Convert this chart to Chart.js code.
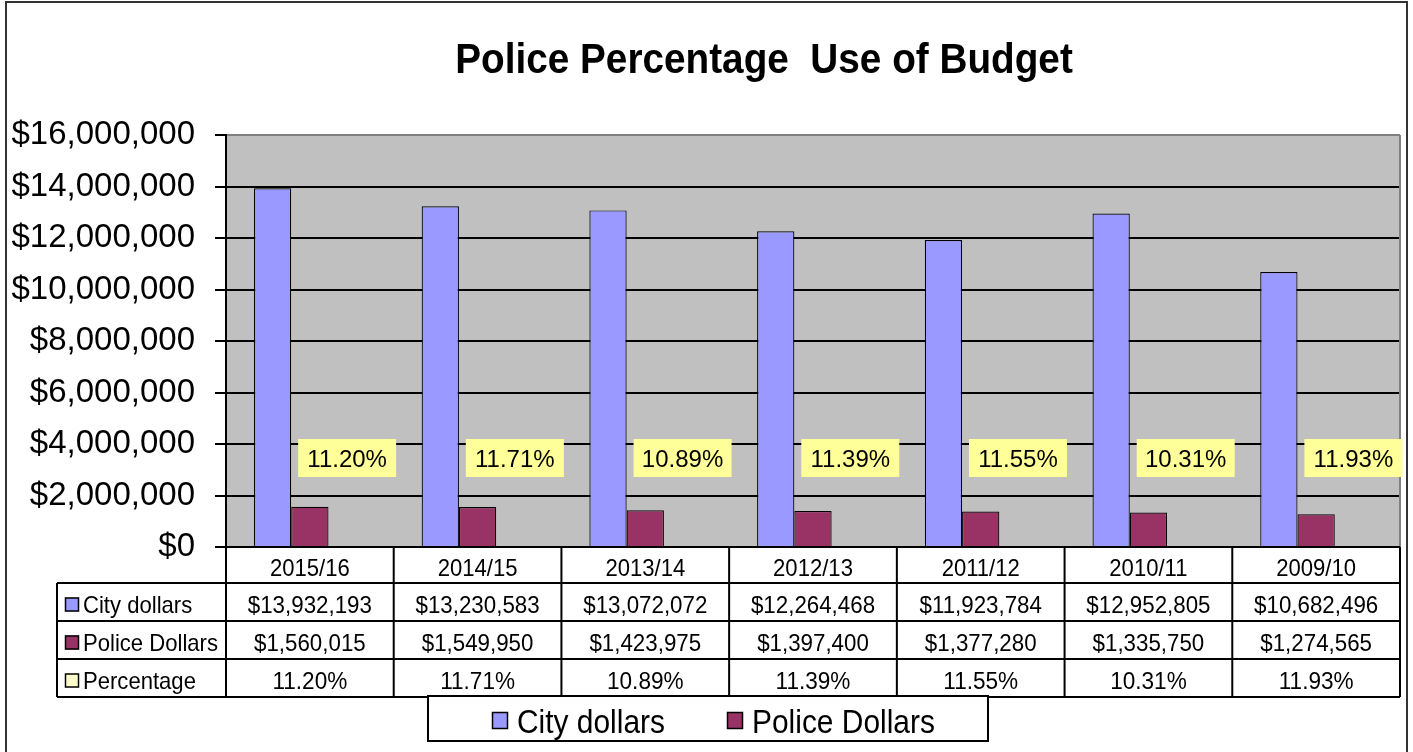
<!DOCTYPE html>
<html>
<head>
<meta charset="utf-8">
<script src="https://cdn.jsdelivr.net/npm/chart.js@4/dist/chart.umd.min.js"></script>
<style>
  html, body { margin: 0; padding: 0; background: #fff; }
  #wrap { width: 1413px; height: 752px; position: relative; }
</style>
</head>
<body>
<div id="wrap"><canvas id="c" width="1413" height="752"></canvas></div>
<script>
// ---- Data ----
const categories = ['2015/16', '2014/15', '2013/14', '2012/13', '2011/12', '2010/11', '2009/10'];
const cityDollars = [13932193, 13230583, 13072072, 12264468, 11923784, 12952805, 10682496];
const policeDollars = [1560015, 1549950, 1423975, 1397400, 1377280, 1335750, 1274565];
const percentages = [11.20, 11.71, 10.89, 11.39, 11.55, 10.31, 11.93];
const seriesNames = ['City dollars', 'Police Dollars', 'Percentage'];
const yMin = 0, yMax = 16000000, yStep = 2000000;

const FONT = '"Liberation Sans", Arial, Helvetica, sans-serif';
const COLORS = { city: '#9999FF', police: '#993366', pct: '#FFFFCC', plot: '#C0C0C0', label: '#FFFF99' };

function fmtDollar(v) { return '$' + Math.round(v).toLocaleString('en-US'); }
function fmtPct(v) { return v.toFixed(2) + '%'; }

function txt(ctx, s, x, y, size, sx, align, bold) {
  ctx.save();
  ctx.font = (bold ? 'bold ' : '') + size + 'px ' + FONT;
  ctx.textBaseline = 'alphabetic';
  ctx.textAlign = align || 'left';
  ctx.fillStyle = '#000';
  ctx.translate(x, y);
  ctx.scale(sx, 1);
  ctx.fillText(s, 0, 0);
  ctx.restore();
}

function keyBox(ctx, x, y, w, h, color) {
  ctx.save();
  ctx.fillStyle = color;
  ctx.fillRect(x, y, w, h);
  ctx.strokeStyle = '#000';
  ctx.lineWidth = 1.5;
  ctx.strokeRect(x + 0.5, y + 0.5, w - 1, h - 1);
  ctx.restore();
}

const decor = {
  id: 'decor',
  beforeDraw(chart) {
    const ctx = chart.ctx, a = chart.chartArea;
    ctx.save();
    ctx.fillStyle = '#fff';
    ctx.fillRect(0, 0, chart.width, chart.height);
    ctx.fillStyle = COLORS.plot;
    ctx.fillRect(a.left, a.top, a.right - a.left, a.bottom - a.top);
    ctx.restore();
  },
  afterDraw(chart) {
    const ctx = chart.ctx, a = chart.chartArea;
    const xs = chart.scales.x;
    const n = categories.length;
    const colW = (a.right - a.left) / n;

    // plot right border
    ctx.save();
    ctx.strokeStyle = '#808080';
    ctx.lineWidth = 2;
    ctx.beginPath();
    ctx.moveTo(a.right, a.top);
    ctx.lineTo(a.right, a.bottom);
    ctx.stroke();
    ctx.restore();

    // outer frame
    ctx.save();
    ctx.strokeStyle = '#333';
    ctx.lineWidth = 2;
    ctx.strokeRect(6, 2, 1401, 770);
    ctx.restore();

    // title
    txt(ctx, 'Police Percentage  Use of Budget', 764, 73, 42, 0.922, 'center', true);

    // percentage labels (above 3rd series bars)
    const meta3 = chart.getDatasetMeta(2);
    meta3.data.forEach((bar, i) => {
      const cx = bar.x, cy = a.bottom - 89;
      ctx.save();
      ctx.fillStyle = COLORS.label;
      ctx.fillRect(cx - 49, cy - 19, 98, 38);
      ctx.restore();
      txt(ctx, fmtPct(percentages[i]), cx, cy + 8.6, 24, 1, 'center', false);
    });

    // data table
    const rows = [a.bottom, a.bottom + 36, a.bottom + 74, a.bottom + 112, a.bottom + 150];
    const leftX = 57;
    ctx.save();
    ctx.strokeStyle = '#000';
    ctx.lineWidth = 2;
    ctx.beginPath();
    ctx.moveTo(a.left, rows[0]); ctx.lineTo(a.right, rows[0]);
    for (let r = 1; r < rows.length; r++) {
      ctx.moveTo(leftX, rows[r]); ctx.lineTo(a.right, rows[r]);
    }
    ctx.moveTo(leftX, rows[1]); ctx.lineTo(leftX, rows[4]);
    for (let i = 0; i <= n; i++) {
      const x = i < n ? xs.getPixelForValue(i) - colW / 2 : a.right;
      ctx.moveTo(x, rows[0]); ctx.lineTo(x, rows[4]);
    }
    ctx.stroke();
    ctx.restore();

    const rowMid = r => (rows[r] + rows[r + 1]) / 2;
    for (let i = 0; i < n; i++) {
      const cx = xs.getPixelForValue(i);
      txt(ctx, categories[i], cx, rowMid(0) + 10.5, 24, 0.92, 'center');
      txt(ctx, fmtDollar(cityDollars[i]), cx, rowMid(1) + 10.5, 24, 0.93, 'center');
      txt(ctx, fmtDollar(policeDollars[i]), cx, rowMid(2) + 10.5, 24, 0.93, 'center');
      txt(ctx, fmtPct(percentages[i]), cx, rowMid(3) + 10.5, 24, 0.94, 'center');
    }
    const keyColors = [COLORS.city, COLORS.police, COLORS.pct];
    for (let r = 0; r < 3; r++) {
      const base = rowMid(r + 1) + 10.5;
      keyBox(ctx, 65, base - 15, 14, 14, keyColors[r]);
      txt(ctx, seriesNames[r], 83, base, 24, 0.92, 'left');
    }

    // legend
    ctx.save();
    ctx.fillStyle = '#fff';
    ctx.fillRect(428, 696, 560, 45);
    ctx.strokeStyle = '#000';
    ctx.lineWidth = 2;
    ctx.strokeRect(428, 696, 560, 45);
    ctx.restore();
    keyBox(ctx, 492, 712, 16, 17, COLORS.city);
    txt(ctx, seriesNames[0], 517, 733, 34, 0.88, 'left');
    keyBox(ctx, 727, 712, 16, 17, COLORS.police);
    txt(ctx, seriesNames[1], 752, 733, 34, 0.88, 'left');
  }
};

new Chart(document.getElementById('c'), {
  type: 'bar',
  data: {
    labels: categories,
    datasets: [
      { label: seriesNames[0], data: cityDollars, backgroundColor: COLORS.city, borderColor: '#000', borderWidth: 1.2 },
      { label: seriesNames[1], data: policeDollars, backgroundColor: COLORS.police, borderColor: '#000', borderWidth: 1.2 },
      { label: seriesNames[2], data: percentages.map(p => p / 100), backgroundColor: COLORS.pct, borderWidth: 0 }
    ]
  },
  options: {
    responsive: false,
    animation: false,
    devicePixelRatio: 1,
    layout: { padding: { left: 0, top: 135, right: 13, bottom: 205 } },
    datasets: { bar: { categoryPercentage: 0.6667, barPercentage: 1 } },
    plugins: { legend: { display: false }, title: { display: false }, tooltip: { enabled: false } },
    scales: {
      x: { display: false, offset: true },
      y: {
        min: yMin, max: yMax,
        afterFit(scale) { scale.width = 226; },
        ticks: {
          stepSize: yStep,
          padding: 20,
          color: '#000',
          font: { family: FONT, size: 33 },
          callback: v => fmtDollar(v)
        },
        grid: {
          color: c => (c.tick && c.tick.value === yMax) ? '#808080' : '#000',
          lineWidth: 2,
          tickLength: 11,
          tickColor: '#000'
        },
        border: { display: true, color: '#000', width: 2 }
      }
    }
  },
  plugins: [decor]
});
</script>
</body>
</html>
